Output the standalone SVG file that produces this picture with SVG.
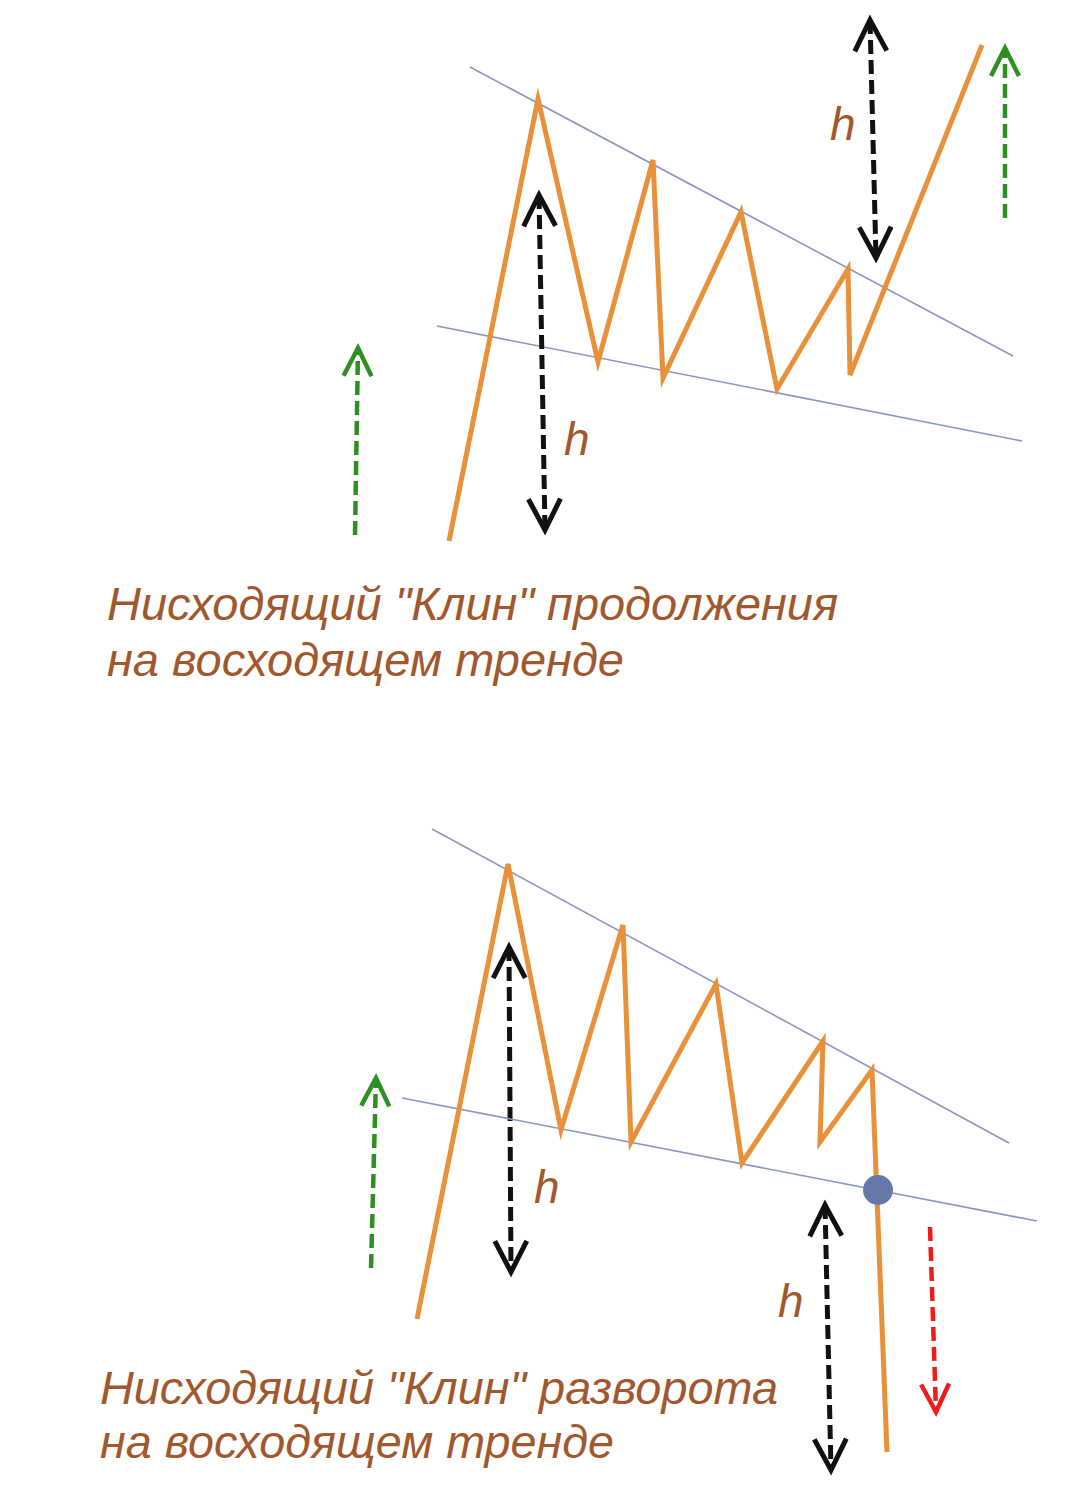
<svg xmlns="http://www.w3.org/2000/svg" width="1080" height="1493" viewBox="0 0 1080 1493">
<style>
.bg{fill:#ffffff}
.price{fill:none;stroke:#E8913A;stroke-width:5;stroke-linejoin:miter;stroke-miterlimit:5;stroke-linecap:butt}
.trend{fill:none;stroke:#8A96BE;stroke-width:1.6}
.hblk{fill:none;stroke:#111111;stroke-width:5;stroke-dasharray:14 6}
.grn{fill:none;stroke:#2F8F22;stroke-width:4.5;stroke-dasharray:14 6}
.red{fill:none;stroke:#EE1C1C;stroke-width:4.5;stroke-dasharray:14 6}
.lbl{font-family:"Liberation Sans",Arial,sans-serif;font-style:italic;font-size:46px;fill:#A0582E}
</style>
<defs>
<marker id="hk" markerUnits="userSpaceOnUse" viewBox="-36 -20 42 40" refX="0" refY="0" markerWidth="42" markerHeight="40" orient="auto-start-reverse">
<path d="M-31,-16 L0,0 L-31,16" fill="none" stroke="#111111" stroke-width="5" stroke-dasharray="none"/>
</marker>
<marker id="gk" markerUnits="userSpaceOnUse" viewBox="-34 -20 40 40" refX="0" refY="0" markerWidth="40" markerHeight="40" orient="auto">
<path d="M-28,-14 L0,0 L-28,14" fill="none" stroke="#2F8F22" stroke-width="4.5" stroke-dasharray="none"/>
</marker>
<marker id="rk" markerUnits="userSpaceOnUse" viewBox="-34 -20 40 40" refX="0" refY="0" markerWidth="40" markerHeight="40" orient="auto">
<path d="M-28,-14 L0,0 L-28,14" fill="none" stroke="#EE1C1C" stroke-width="4.5" stroke-dasharray="none"/>
</marker>
</defs>
<rect class="bg" x="0" y="0" width="1080" height="1493"/>

<g id="chart-continuation">
<line class="trend" x1="470" y1="67" x2="1013" y2="356"/>
<line class="trend" x1="437" y1="326" x2="1022" y2="441"/>
<polyline class="price" points="449,541 538,99 598,362 653,160 663,378 741,212 777,389 848,269 850,375 982,45"/>
</g>

<g id="connectors">
<line class="hblk" x1="539" y1="195" x2="545" y2="530" marker-start="url(#hk)" marker-end="url(#hk)"/>
<line class="hblk" x1="870" y1="20" x2="876" y2="258" marker-start="url(#hk)" marker-end="url(#hk)"/>
<line class="grn" x1="1005" y1="218" x2="1005" y2="48" marker-end="url(#gk)"/>
<line class="grn" x1="355" y1="535" x2="358" y2="348" marker-end="url(#gk)"/>
<line class="hblk" x1="509" y1="947" x2="511" y2="1272" marker-start="url(#hk)" marker-end="url(#hk)"/>
<line class="hblk" x1="825" y1="1205" x2="831" y2="1470" marker-start="url(#hk)" marker-end="url(#hk)"/>
<line class="grn" x1="371" y1="1268" x2="376" y2="1078" marker-end="url(#gk)"/>
<line class="red" x1="930" y1="1227" x2="936" y2="1412" marker-end="url(#rk)"/>
</g>

<g id="chart-reversal">
<line class="trend" x1="432" y1="829" x2="1009" y2="1143"/>
<line class="trend" x1="402" y1="1098" x2="1037" y2="1221"/>
<polyline class="price" points="417,1319 508,864 561,1130 623,925 631,1142 716,984 742,1163 823,1041 820,1142 872,1070 887,1452"/>
<circle id="breakout-point" cx="878" cy="1190" r="15" fill="#6677AA"/>
</g>

<g id="labels">
<text class="lbl" x="564" y="455">h</text>
<text class="lbl" x="830" y="140">h</text>
<text class="lbl" x="534" y="1203">h</text>
<text class="lbl" x="778" y="1317">h</text>
</g>

<g id="caption-top">
<text class="lbl" x="107" y="620" textLength="731" lengthAdjust="spacingAndGlyphs">Нисходящий "Клин" продолжения</text>
<text class="lbl" x="107" y="676" textLength="517" lengthAdjust="spacingAndGlyphs">на восходящем тренде</text>
</g>

<g id="caption-bottom">
<text class="lbl" x="100" y="1404" textLength="678" lengthAdjust="spacingAndGlyphs">Нисходящий "Клин" разворота</text>
<text class="lbl" x="100" y="1458" textLength="514" lengthAdjust="spacingAndGlyphs">на восходящем тренде</text>
</g>
</svg>
